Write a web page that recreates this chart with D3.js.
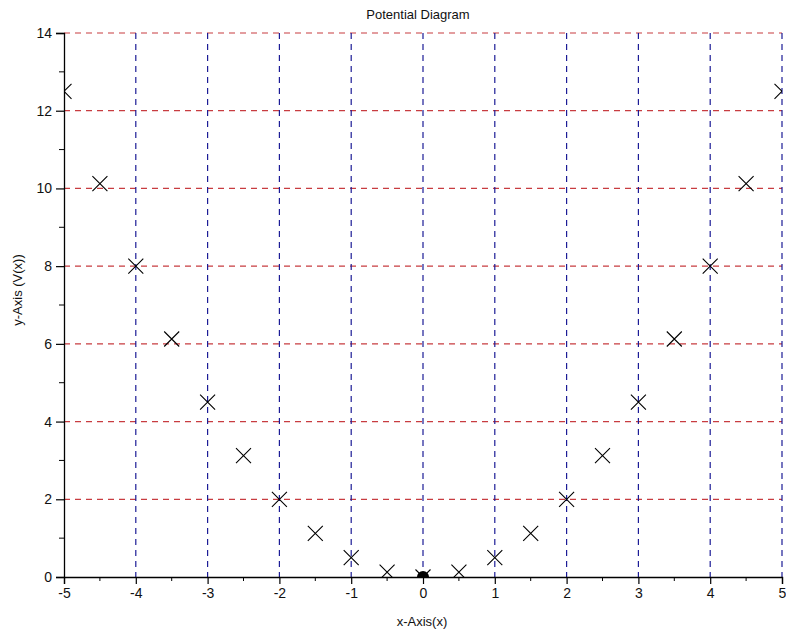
<!DOCTYPE html>
<html><head><meta charset="utf-8">
<script src="https://cdn.jsdelivr.net/npm/d3@7"></script>
<style>body{margin:0;background:#fff}svg{display:block}</style>
</head><body>
<script>
const xValues = [-5,-4.5,-4,-3.5,-3,-2.5,-2,-1.5,-1,-0.5,0,0.5,1,1.5,2,2.5,3,3.5,4,4.5,5];
const vValues = [12.5,10.125,8,6.125,4.5,3.125,2,1.125,0.5,0.125,0,0.125,0.5,1.125,2,3.125,4.5,6.125,8,10.125,12.5];
const xTicks = [-5,-4,-3,-2,-1,0,1,2,3,4,5];
const yTicks = [0,2,4,6,8,10,12,14];
const xMinor = [-4.5,-3.5,-2.5,-1.5,-0.5,0.5,1.5,2.5,3.5,4.5];
const yMinor = [1,3,5,7,9,11,13];
const originPoint = [0];

const W=786,H=634;
const L=64,R=782,T=33,B=577;
const svg=d3.select("body").append("svg").attr("width",W).attr("height",H);
const x=d3.scaleLinear().domain([-5,5]).range([L,R]);
const y=d3.scaleLinear().domain([0,14]).range([B,T]);
const font="Arial, 'Liberation Sans', sans-serif";

svg.append("defs").append("clipPath").attr("id","clip")
  .append("rect").attr("x",L).attr("y",T).attr("width",R-L).attr("height",B-T);

// grid
svg.append("g").selectAll("line").data(yTicks.filter(d=>d>0)).join("line")
  .attr("x1",L).attr("x2",R).attr("y1",d=>y(d)).attr("y2",d=>y(d))
  .attr("stroke","#c83c40").attr("stroke-width",1.2).attr("stroke-dasharray","6,5");
svg.append("g").selectAll("line").data(xTicks.filter(d=>d>-5)).join("line")
  .attr("x1",d=>x(d)).attr("x2",d=>x(d)).attr("y1",T).attr("y2",B)
  .attr("stroke","#1c1c96").attr("stroke-width",1.2).attr("stroke-dasharray","6,5");

// axes
const fmt=d=>String(d);
const xAxis=d3.axisBottom(x).tickValues(xTicks).tickSize(7).tickPadding(4).tickFormat(fmt);
const gx=svg.append("g").attr("transform",`translate(0,${B})`).call(xAxis);
gx.append("g").selectAll("line").data(xMinor).join("line")
  .attr("x1",d=>x(d)).attr("x2",d=>x(d)).attr("y1",0).attr("y2",4).attr("stroke","#000");
const yAxis=d3.axisLeft(y).tickValues(yTicks).tickSize(8).tickPadding(4).tickFormat(fmt);
const gy=svg.append("g").attr("transform",`translate(${L},0)`).call(yAxis);
gy.append("g").selectAll("line").data(yMinor).join("line")
  .attr("x1",-5).attr("x2",0).attr("y1",d=>y(d)).attr("y2",d=>y(d)).attr("stroke","#000");
[gx,gy].forEach(g=>{
  g.select(".domain").attr("stroke","#000").attr("stroke-width",1.3);
  g.selectAll(".tick line").attr("stroke","#000").attr("stroke-width",1.2);
  g.selectAll("text").attr("font-family",font).attr("font-size",14).attr("fill","#111");
});

// markers
const pts=svg.append("g").attr("clip-path","url(#clip)");
const s=7.5;
const data=xValues.map((d,i)=>({x:d,v:vValues[i]}));
pts.selectAll("path.m").data(data).join("path").attr("class","m")
  .attr("d",d=>{const cx=x(d.x),cy=y(d.v);return `M${cx-s},${cy-s}L${cx+s},${cy+s}M${cx-s},${cy+s}L${cx+s},${cy-s}`;})
  .attr("stroke","#000").attr("stroke-width",1.1).attr("fill","none");
pts.selectAll("circle.o").data(originPoint).join("circle").attr("class","o")
  .attr("cx",d=>x(d)).attr("cy",y(0)).attr("r",6).attr("fill","#000");

// titles
svg.append("text").attr("x",(L+R)/2-5).attr("y",19).attr("text-anchor","middle")
  .attr("font-family",font).attr("font-size",13).attr("fill","#111").text("Potential Diagram");
svg.append("text").attr("x",(L+R)/2-1).attr("y",626).attr("text-anchor","middle")
  .attr("font-family",font).attr("font-size",13).attr("fill","#111").text("x-Axis(x)");
svg.append("text").attr("transform","translate(22,290) rotate(-90)").attr("text-anchor","middle")
  .attr("font-family",font).attr("font-size",13).attr("fill","#111").text("y-Axis (V(x))");
</script>
</body></html>
